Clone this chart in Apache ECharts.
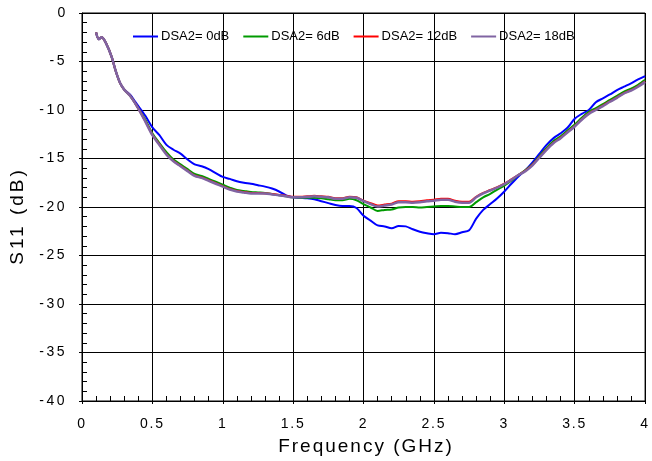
<!DOCTYPE html>
<html>
<head>
<meta charset="utf-8">
<script src="https://cdn.jsdelivr.net/npm/echarts@6/dist/echarts.min.js"></script>
<style>html,body{margin:0;padding:0;background:#fff;}#c{width:652px;height:461px;}</style>
</head>
<body>
<div id="c"></div>
<script>
const freq = [0.10,0.12,0.14,0.17,0.21,0.24,0.27,0.30,0.34,0.39,0.45,0.50,0.55,0.60,0.65,0.70,0.75,0.80,0.85,0.90,0.95,1.00,1.05,1.10,1.15,1.20,1.25,1.30,1.35,1.40,1.45,1.50,1.55,1.60,1.65,1.70,1.75,1.80,1.85,1.90,1.95,2.00,2.05,2.10,2.15,2.20,2.25,2.30,2.35,2.40,2.45,2.50,2.55,2.60,2.65,2.70,2.75,2.80,2.85,2.90,2.95,3.00,3.05,3.10,3.15,3.20,3.25,3.30,3.35,3.40,3.45,3.50,3.55,3.60,3.65,3.70,3.75,3.80,3.85,3.90,3.95,4.00];

const s0dB = [-2.0,-2.7,-2.5,-3.1,-4.5,-6.0,-7.2,-7.9,-8.4,-9.4,-10.6,-11.8,-12.6,-13.6,-14.1,-14.5,-15.1,-15.6,-15.8,-16.1,-16.5,-16.9,-17.1,-17.35,-17.5,-17.6,-17.75,-17.9,-18.1,-18.4,-18.8,-19.0,-19.05,-19.1,-19.2,-19.4,-19.6,-19.8,-19.9,-19.9,-20.1,-20.9,-21.4,-21.9,-22.0,-22.2,-21.95,-22.0,-22.3,-22.55,-22.7,-22.8,-22.65,-22.7,-22.8,-22.6,-22.4,-21.2,-20.3,-19.7,-19.1,-18.4,-17.6,-16.85,-16.2,-15.4,-14.5,-13.6,-12.9,-12.4,-11.8,-10.9,-10.4,-10.0,-9.2,-8.8,-8.4,-7.95,-7.6,-7.25,-6.85,-6.5];

const s6dB = [-2.0,-2.7,-2.5,-3.1,-4.5,-6.0,-7.2,-7.9,-8.5,-9.6,-11.0,-12.4,-13.4,-14.35,-15.1,-15.6,-16.1,-16.6,-16.8,-17.1,-17.4,-17.7,-18.0,-18.25,-18.35,-18.45,-18.5,-18.55,-18.65,-18.8,-18.9,-19.0,-19.05,-19.05,-19.05,-19.1,-19.2,-19.3,-19.3,-19.15,-19.3,-19.7,-20.05,-20.4,-20.3,-20.25,-20.05,-20.0,-20.0,-20.05,-20.0,-19.95,-19.9,-19.9,-19.95,-20.0,-20.0,-19.5,-19.0,-18.65,-18.2,-17.8,-17.3,-16.7,-16.2,-15.6,-14.75,-13.9,-13.2,-12.7,-12.1,-11.5,-10.8,-10.2,-9.8,-9.4,-8.95,-8.55,-8.1,-7.8,-7.4,-6.9];

const s12dB = [-2.0,-2.7,-2.5,-3.1,-4.5,-6.0,-7.2,-7.9,-8.5,-9.6,-11.15,-12.55,-13.55,-14.55,-15.25,-15.75,-16.25,-16.75,-16.95,-17.25,-17.55,-17.85,-18.15,-18.35,-18.45,-18.55,-18.55,-18.6,-18.65,-18.75,-18.85,-18.95,-18.95,-18.9,-18.85,-18.9,-18.95,-19.1,-19.1,-18.95,-19.0,-19.35,-19.6,-19.85,-19.75,-19.65,-19.4,-19.4,-19.45,-19.4,-19.3,-19.25,-19.15,-19.15,-19.35,-19.45,-19.45,-18.95,-18.55,-18.25,-17.95,-17.6,-17.15,-16.7,-16.25,-15.65,-14.85,-14.05,-13.35,-12.85,-12.25,-11.65,-10.95,-10.35,-9.95,-9.55,-9.1,-8.7,-8.25,-7.95,-7.55,-7.05];

const s18dB = [-2.0,-2.7,-2.5,-3.1,-4.5,-6.0,-7.2,-7.9,-8.5,-9.6,-11.2,-12.6,-13.6,-14.6,-15.3,-15.8,-16.3,-16.8,-17.0,-17.3,-17.6,-17.9,-18.2,-18.4,-18.5,-18.6,-18.6,-18.6,-18.7,-18.8,-18.9,-19.0,-19.0,-18.95,-18.9,-18.95,-19.0,-19.15,-19.15,-19.0,-19.05,-19.4,-19.7,-19.95,-19.85,-19.75,-19.5,-19.5,-19.55,-19.5,-19.4,-19.35,-19.25,-19.25,-19.45,-19.55,-19.55,-19.0,-18.6,-18.3,-18.0,-17.65,-17.2,-16.7,-16.3,-15.7,-14.9,-14.1,-13.4,-12.9,-12.3,-11.7,-11.0,-10.4,-10.0,-9.6,-9.15,-8.75,-8.3,-8.0,-7.6,-7.1];

const seriesNames = ['DSA2= 0dB','DSA2= 6dB','DSA2= 12dB','DSA2= 18dB'];
const seriesColors = ['#0000ff','#009a00','#ff0000','#8064a2'];
const seriesValues = [s0dB, s6dB, s12dB, s18dB];
const xTickLabels = ['0','0.5','1','1.5','2','2.5','3','3.5','4'];
const yTickLabels = ['0','-5','-10','-15','-20','-25','-30','-35','-40'];
const xName = 'Frequency (GHz)';
const yName = 'S11 (dB)';

// letter spacing for the axis texts (the reference uses widely spaced glyphs)
const spacingFor = function (t) {
  if (t === xName) return 2;
  if (t === yName) return 3;
  if (yTickLabels.indexOf(t) >= 0 && t !== '0') return 2.5;
  if (xTickLabels.indexOf(t) >= 0) return 1.8;
  return 0;
};
const origFill = CanvasRenderingContext2D.prototype.fillText;
CanvasRenderingContext2D.prototype.fillText = function (t) {
  if (!('letterSpacing' in this)) return origFill.apply(this, arguments);
  const s = spacingFor(String(t));
  const f = this.font;
  this.letterSpacing = s + 'px';
  this.font = f;
  const r = origFill.apply(this, arguments);
  this.letterSpacing = '0px';
  this.font = f;
  return r;
};

const chart = echarts.init(document.getElementById('c'), null, {renderer: 'canvas'});
const font = 'Liberation Sans, Arial, Helvetica, sans-serif';

chart.setOption({
  animation: false,
  backgroundColor: '#fff',
  grid: {left: 82, right: 4, top: 13, bottom: 60, show: true, borderColor: '#000', borderWidth: 1},
  legend: {
    data: seriesNames,
    left: 133, top: 30,
    icon: 'rect', itemWidth: 25, itemHeight: 2, itemGap: 14,
    padding: 0,
    textStyle: {fontFamily: font, fontSize: 13, color: '#000', padding: [0, 0, 0, -2]}
  },
  xAxis: {
    type: 'value', min: 0, max: 4, interval: 0.5,
    axisLine: {show: true, onZero: false, lineStyle: {color: '#000', width: 1}},
    axisTick: {show: true, inside: false, length: 3, lineStyle: {color: '#000'}},
    minorTick: {show: true, splitNumber: 5, length: -5, lineStyle: {color: '#000'}},
    splitLine: {show: true, lineStyle: {color: '#000', width: 1}},
    axisLabel: {fontFamily: font, fontSize: 14, color: '#000', margin: 16,
      formatter: function (v) { return xTickLabels[Math.round(v / 0.5)]; }}
  },
  yAxis: {
    type: 'value', min: -40, max: 0, interval: 5,
    axisLine: {show: true, onZero: false, lineStyle: {color: '#000', width: 1}},
    axisTick: {show: true, inside: false, length: 3, lineStyle: {color: '#000'}},
    minorTick: {show: true, splitNumber: 5, length: -5, lineStyle: {color: '#000'}},
    splitLine: {show: true, lineStyle: {color: '#000', width: 1}},
    axisLabel: {fontFamily: font, fontSize: 14, color: '#000', margin: 15,
      formatter: function (v) { return yTickLabels[Math.round(-v / 5)]; }}
  },
  graphic: [
    {type: 'text', x: 366, y: 437, style: {text: xName, font: '19px ' + font, fill: '#000', align: 'center', verticalAlign: 'top', textAlign: 'center', textVerticalAlign: 'top'}},
    {type: 'text', x: 18, y: 216, rotation: Math.PI / 2, style: {text: yName, font: '19px ' + font, fill: '#000', align: 'center', verticalAlign: 'middle', textAlign: 'center', textVerticalAlign: 'middle'}}
  ],
  series: seriesNames.map((n, i) => ({
    name: n, type: 'line', showSymbol: false, symbol: 'none',
    smooth: 0.3,
    lineStyle: {color: seriesColors[i], width: i === 3 ? 2.5 : 2},
    itemStyle: {color: seriesColors[i]},
    data: freq.map((f, k) => [f, seriesValues[i][k]])
  }))
});
</script>
</body>
</html>
